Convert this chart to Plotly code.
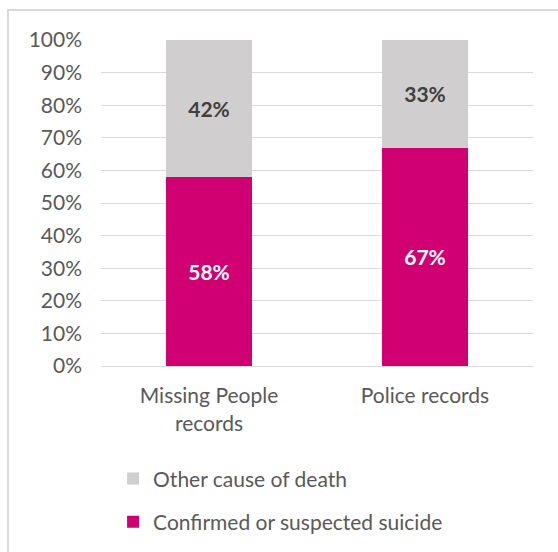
import plotly.graph_objects as go

categories = ["Missing People<br>records", "Police records"]
suicide = [58, 67]
other = [42, 33]
series_names = ["Confirmed or suspected suicide", "Other cause of death"]
tick_vals = list(range(0, 101, 10))
tick_text = [f"{v}%" for v in tick_vals]

FONT = "Lato"
FS = 21
fig = go.Figure()
fig.add_trace(go.Bar(
    x=categories, y=suicide, name=series_names[0], legendgroup="a", legendrank=2,
    marker=dict(color="#D10072", line=dict(width=0)),
    text=[f"{v}%" for v in suicide], textposition="inside", insidetextanchor="middle",
    textfont=dict(family=FONT, size=FS, color="white", weight="bold"),
    width=0.4,
))
fig.add_trace(go.Bar(
    x=categories, y=other, name=series_names[1], legendgroup="b", legendrank=1,
    marker=dict(color="#D0CECE", line=dict(width=0)),
    text=[f"{v}%" for v in other], textposition="inside", insidetextanchor="middle",
    textfont=dict(family=FONT, size=FS, color="#404040", weight="bold"),
    width=0.4,
))

fig.update_layout(
    width=558, height=552,
    margin=dict(l=101, r=25, t=40, b=186, autoexpand=False),
    barmode="stack",
    paper_bgcolor="white", plot_bgcolor="white",
    font=dict(family=FONT, size=FS, color="#595959"),
    showlegend=True,
    legend=dict(traceorder="grouped", x=0.028, xanchor="left", y=-0.283, yanchor="top",
                tracegroupgap=13, font=dict(size=FS, color="#595959"),
                bgcolor="rgba(0,0,0,0)"),
    xaxis=dict(showgrid=False, showline=True, linecolor="#D9D9D9", linewidth=1, automargin=False,
               tickfont=dict(size=FS, color="#595959"), ticks="", ticklabelstandoff=11),
    yaxis=dict(range=[0, 100], tickvals=tick_vals, ticktext=tick_text, automargin=False,
               showgrid=True, gridcolor="#D9D9D9", gridwidth=1, zeroline=False,
               showline=False, ticks="", ticklabelstandoff=18,
               tickfont=dict(size=FS, color="#595959")),
    shapes=[dict(type="rect", xref="paper", yref="paper",
                 x0=(8 - 101) / 432, x1=(570 - 101) / 432,
                 y0=(366 - 570) / 326, y1=(366 - 10) / 326,
                 line=dict(color="#D9D9D9", width=2), fillcolor="rgba(0,0,0,0)", layer="below")],
)
fig.write_html("out.html")
